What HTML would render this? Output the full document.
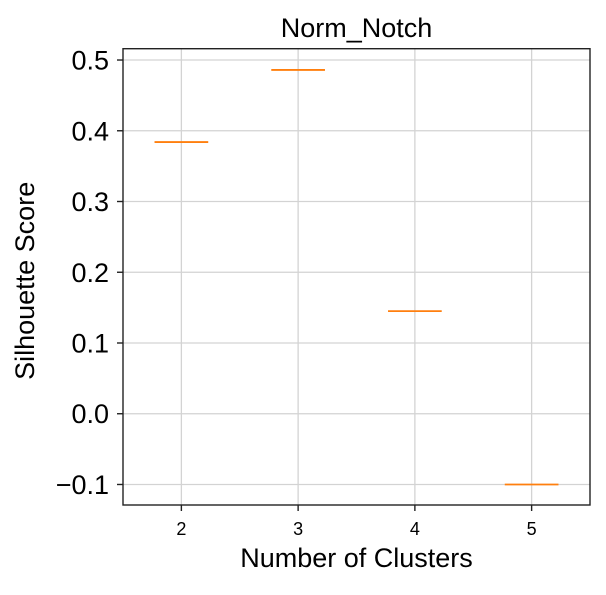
<!DOCTYPE html>
<html><head><meta charset="utf-8"><style>
body{margin:0;background:#fff;font-family:"Liberation Sans",Arial,sans-serif}
</style></head><body>
<svg id="chart" width="606" height="590" xmlns="http://www.w3.org/2000/svg"></svg>
<script>
const categories = [2, 3, 4, 5];
const medians = [0.384, 0.486, 0.145, -0.1];
const yTicks = [-0.1, 0.0, 0.1, 0.2, 0.3, 0.4, 0.5];
const yTickLabels = ["\u22120.1", "0.0", "0.1", "0.2", "0.3", "0.4", "0.5"];

const L=123, R=590, T=48.7, B=505;
const xMin=1.5, xMax=5.5, yMin=-0.129, yMax=0.516;
const xs=v=>L+(v-xMin)/(xMax-xMin)*(R-L);
const ys=v=>B-(v-yMin)/(yMax-yMin)*(B-T);
const svg=document.getElementById('chart');
const NS='http://www.w3.org/2000/svg';
function mk(tag,attrs,text){const e=document.createElementNS(NS,tag);for(const k in attrs)e.setAttribute(k,attrs[k]);if(text!==undefined)e.textContent=text;svg.appendChild(e);return e;}

categories.forEach(c=>{const e=mk('line',{x1:xs(c),x2:xs(c),y1:T,y2:B,stroke:'#d3d3d3','stroke-width':1.3});

});
yTicks.forEach(v=>{const e=mk('line',{x1:L,x2:R,y1:ys(v),y2:ys(v),stroke:'#d3d3d3','stroke-width':1.3});

});

categories.forEach((c,i)=>{const e=mk('line',{x1:xs(c-0.23),x2:xs(c+0.23),y1:ys(medians[i]),y2:ys(medians[i]),stroke:'#ff7f0e','stroke-width':1.8});

});

const f=mk('rect',{x:L,y:T,width:R-L,height:B-T,fill:'none',stroke:'#222','stroke-width':1.4});



categories.forEach(c=>{mk('line',{x1:xs(c),x2:xs(c),y1:B,y2:B+6,stroke:'#222','stroke-width':1.4});
const t=mk('text',{x:xs(c),y:535,'font-size':18,'text-anchor':'middle',fill:'#000'},String(c));

});
yTicks.forEach((v,i)=>{mk('line',{x1:L-6,x2:L,y1:ys(v),y2:ys(v),stroke:'#222','stroke-width':1.4});
const t=mk('text',{x:L-14,y:ys(v)+9.5,'font-size':27,'text-anchor':'end',fill:'#000'},yTickLabels[i]);

});

const ti=mk('text',{x:(L+R)/2,y:37,'font-size':27,'text-anchor':'middle'},'Norm_Notch');


const xl=mk('text',{x:(L+R)/2,y:567,'font-size':27,'text-anchor':'middle'},'Number of Clusters');


const yl=mk('text',{x:0,y:0,'font-size':27,'text-anchor':'middle',transform:`translate(34,${(T+B)/2+4}) rotate(-90)`},'Silhouette Score');


</script>
</body></html>
